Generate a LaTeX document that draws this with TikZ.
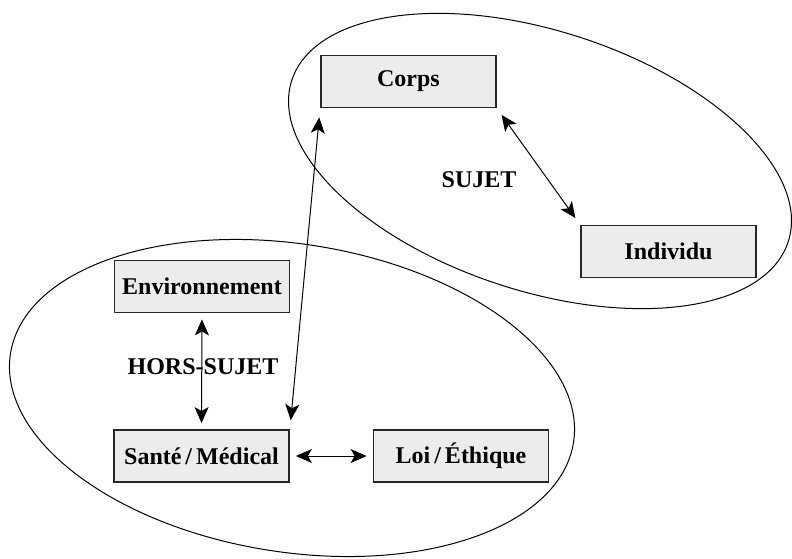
\documentclass[tikz,border=0pt]{standalone}
\usepackage{fontspec}
\setmainfont{Liberation Serif}
\usetikzlibrary{arrows.meta}
\definecolor{boxgray}{RGB}{235,236,235}
\tikzset{
  theme/.style={draw=black!85, line width=0.9pt, fill=boxgray, minimum width=87.5pt,
    minimum height=26pt, inner sep=0pt, font=\fontsize{12}{14}\selectfont\bfseries},
  lien/.style={{Stealth[length=8pt,width=7pt,inset=2pt]}-{Stealth[length=8pt,width=7pt,inset=2pt]}, line width=0.5pt},
  etiquette/.style={font=\fontsize{12}{14}\selectfont\bfseries}
}
\begin{document}
\begin{tikzpicture}[x=0.5pt,y=0.5pt]
   \useasboundingbox (0,0) rectangle (792,558);
   \draw[line width=0.5pt, rotate around={-18:(540,397)}] (540,397) ellipse [x radius=261, y radius=130];
   \draw[line width=0.5pt, rotate around={-9:(292,160)}] (292,160) ellipse [x radius=285, y radius=154];
   \node[theme] (corps) at (408.5,476.5) {Corps};
   \node[theme] (individu) at (668.5,306.5) {Individu};
   \node[theme] (environnement) at (202,271.5) {Environnement};
   \node[theme] (sante) at (201.5,102) {Santé\,/\,Médical};
   \node[theme] (loi) at (461,102) {Loi\,/\,Éthique};
   \node[etiquette] (sujet) at (479,378) {SUJET};
   \node[etiquette] (horssujet) at (203,191) {HORS-SUJET};
   \draw[lien, shorten <=4pt, shorten >=4pt] (corps.south east) -- (individu.north west);
   \draw[lien, shorten <=4.5pt, shorten >=4.5pt] (sante.north east) -- (corps.south west);
   \draw[lien, shorten <=3pt, shorten >=3pt] (environnement.south) -- (sante.north);
   \draw[lien, shorten <=3pt, shorten >=3pt] (sante.east) -- (loi.west);
\end{tikzpicture}
\end{document}
